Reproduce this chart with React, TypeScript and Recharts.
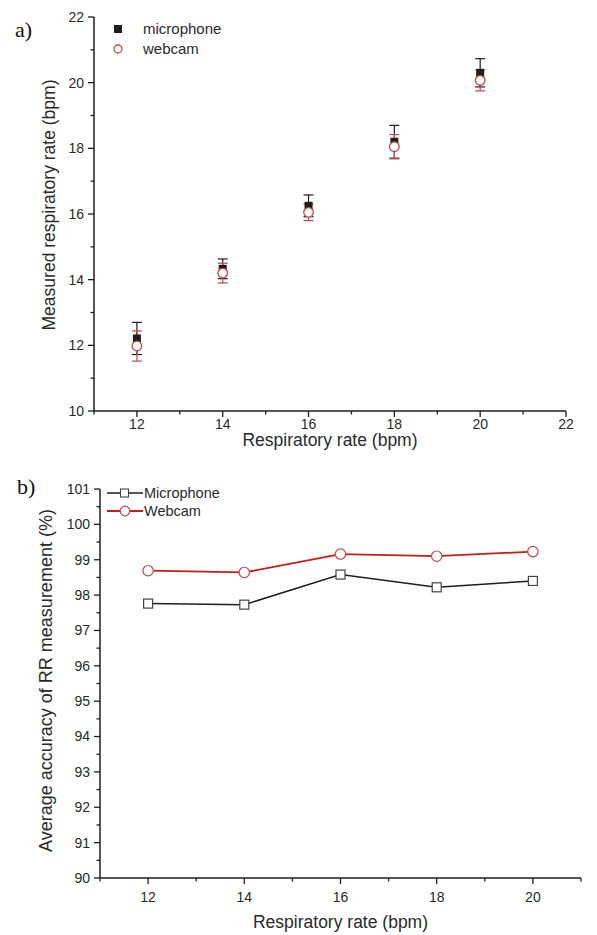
import React from 'react'
import { ScatterChart, Scatter, LineChart, Line, XAxis, YAxis, ErrorBar, Legend } from 'recharts'

const FONT = '"Liberation Sans", Arial, Helvetica, sans-serif'
const INK = '#1e1e1e'
const TEXT = '#2a2a2a'
const RED_MARK = '#c4474a'
const RED_LINE = '#d01818'

// respiratory rate set on the simulator (bpm)
const rates = [12, 14, 16, 18, 20]

// a) measured rate, mean and error
const micMeasured = [12.21, 14.33, 16.25, 18.2, 20.3]
const micError = [0.49, 0.3, 0.33, 0.5, 0.43]
const camMeasured = [11.98, 14.2, 16.05, 18.05, 20.07]
const camError = [0.46, 0.3, 0.25, 0.37, 0.32]

// b) average accuracy (%)
const micAccuracy = [97.76, 97.73, 98.58, 98.22, 98.4]
const camAccuracy = [98.69, 98.64, 99.16, 99.1, 99.23]

const topXTicks = [11, 12, 13, 14, 15, 16, 17, 18, 19, 20, 21, 22]
const topYTicks = [10, 11, 12, 13, 14, 15, 16, 17, 18, 19, 20, 21, 22]
const botXTicks = [11, 12, 13, 14, 15, 16, 17, 18, 19, 20, 21]
const botXLabels = [12, 14, 16, 18, 20]
const botYTicks = [90, 90.5, 91, 91.5, 92, 92.5, 93, 93.5, 94, 94.5, 95, 95.5, 96, 96.5, 97, 97.5, 98, 98.5, 99, 99.5, 100, 100.5, 101]

const micPoints = rates.map((r, i) => ({ x: r, y: micMeasured[i], err: micError[i] }))
const camPoints = rates.map((r, i) => ({ x: r, y: camMeasured[i], err: camError[i] }))
const accuracy = rates.map((r, i) => ({ x: r, mic: micAccuracy[i], cam: camAccuracy[i] }))

const makeXTick = (isMajor: (v: number) => boolean, showLabel: (v: number) => boolean, labelDy: number) =>
  (p: any) => {
    const v = p.payload.value
    const major = isMajor(v)
    return (
      <g key={`xt-${v}`}>
        <line x1={p.x} x2={p.x} y1={p.y} y2={p.y + (major ? 6 : 3.5)} stroke={INK} strokeWidth={1.3} />
        {showLabel(v) && (
          <text x={p.x} y={p.y + labelDy} dy="0.35em" textAnchor="middle" fontSize={14} fill={TEXT} fontFamily={FONT}>
            {v}
          </text>
        )}
      </g>
    )
  }

const makeYTick = (isMajor: (v: number) => boolean) => (p: any) => {
  const v = p.payload.value
  const major = isMajor(v)
  return (
    <g key={`yt-${v}`}>
      <line x1={p.x} x2={p.x - (major ? 6 : 3.5)} y1={p.y} y2={p.y} stroke={INK} strokeWidth={1.3} />
      {major && (
        <text x={p.x - 10} y={p.y} dy="0.35em" textAnchor="end" fontSize={14} fill={TEXT} fontFamily={FONT}>
          {v}
        </text>
      )}
    </g>
  )
}

// rotated axis title; shift moves it along the axis
const yTitle = (text: string, dx: number, shift: number, size: number) => (p: any) => {
  const vb = p.viewBox
  const cx = vb.x + dx
  const cy = vb.y + vb.height / 2 + shift
  return (
    <text x={cx} y={cy} transform={`rotate(-90 ${cx} ${cy})`} textAnchor="middle" dy="0.35em"
      fontSize={size} fill={TEXT} fontFamily={FONT}>
      {text}
    </text>
  )
}

const xTitle = (text: string, dy: number) => (p: any) => {
  const vb = p.viewBox
  return (
    <text x={vb.x + vb.width / 2} y={vb.y + dy} textAnchor="middle" dy="0.35em"
      fontSize={17.5} fill={TEXT} fontFamily={FONT}>
      {text}
    </text>
  )
}

const SquareMark = (p: any) => <rect x={p.cx - 4} y={p.cy - 4} width={8} height={8} fill={INK} />
const CircleMark = (p: any) => (
  <circle cx={p.cx} cy={p.cy} r={4.8} fill="#fff" stroke={RED_MARK} strokeWidth={1.3} />
)

const TopLegend = () => (
  <svg width={130} height={44} style={{ display: 'block' }}>
    <rect x={4} y={7} width={8} height={8} fill={INK} />
    <text x={33} y={11} dy="0.35em" fontSize={15} fill={TEXT} fontFamily={FONT}>microphone</text>
    <circle cx={8} cy={31} r={4} fill="#fff" stroke={RED_MARK} strokeWidth={1.3} />
    <text x={33} y={31} dy="0.35em" fontSize={15} fill={TEXT} fontFamily={FONT}>webcam</text>
  </svg>
)

const BottomLegend = () => (
  <svg width={130} height={40} style={{ display: 'block' }}>
    <line x1={2} x2={38} y1={9} y2={9} stroke={INK} strokeWidth={1.5} />
    <rect x={15.5} y={5} width={8} height={8} fill="#fff" stroke="#444" strokeWidth={1.1} />
    <text x={39} y={9} dy="0.35em" fontSize={14.5} fill={TEXT} fontFamily={FONT}>Microphone</text>
    <line x1={2} x2={38} y1={27} y2={27} stroke={RED_LINE} strokeWidth={1.8} />
    <circle cx={20} cy={27} r={4.8} fill="#fff" stroke={RED_MARK} strokeWidth={1.2} />
    <text x={39} y={27} dy="0.35em" fontSize={14.5} fill={TEXT} fontFamily={FONT}>Webcam</text>
  </svg>
)

const panelTag: React.CSSProperties = {
  position: 'absolute',
  fontFamily: '"Liberation Serif", "Times New Roman", serif',
  fontSize: 22,
  color: '#111',
  lineHeight: 1,
}

export default function App() {
  return (
    <div style={{ position: 'absolute', left: 0, top: 0, width: 597, height: 935, background: '#fff' }}>
      <div style={{ ...panelTag, left: 15, top: 19 }}>a)</div>
      <div style={{ ...panelTag, left: 17, top: 476 }}>b)</div>

      <div style={{ position: 'absolute', left: 0, top: 0 }}>
        <ScatterChart width={597} height={465} margin={{ top: 17, right: 31, bottom: 24, left: 0 }}>
          <XAxis type="number" dataKey="x" domain={[11, 22]} ticks={topXTicks} interval={0} height={30}
            axisLine={{ stroke: INK, strokeWidth: 1.5 }} tickLine={false} tickSize={0} tickMargin={0}
            tick={makeXTick((v) => v % 2 === 0, (v) => v % 2 === 0, 13)}
            label={xTitle('Respiratory rate (bpm)', 29)} />
          <YAxis type="number" dataKey="y" domain={[10, 22]} ticks={topYTicks} interval={0} width={94}
            axisLine={{ stroke: INK, strokeWidth: 1.5 }} tickLine={false} tickSize={0} tickMargin={0}
            tick={makeYTick((v) => v % 2 === 0)}
            label={yTitle('Measured respiratory rate (bpm)', 49, -9, 17.5)} />
          <Legend layout="horizontal" verticalAlign="middle" align="center"
            wrapperStyle={{ left: 110, top: 18, width: 'auto' }} content={() => <TopLegend />} />
          <Scatter name="microphone" data={micPoints} shape={SquareMark} isAnimationActive={false}>
            <ErrorBar dataKey="err" direction="y" width={5} stroke={INK} strokeWidth={1.2} isAnimationActive={false} />
          </Scatter>
          <Scatter name="webcam" data={camPoints} shape={CircleMark} isAnimationActive={false}>
            <ErrorBar dataKey="err" direction="y" width={5} stroke={RED_MARK} strokeWidth={1.2} isAnimationActive={false} />
          </Scatter>
        </ScatterChart>
      </div>

      <div style={{ position: 'absolute', left: 0, top: 465 }}>
        <LineChart width={597} height={470} data={accuracy} margin={{ top: 24, right: 16, bottom: 27, left: 0 }}>
          <XAxis type="number" dataKey="x" domain={[11, 21]} ticks={botXTicks} interval={0} height={30}
            axisLine={{ stroke: INK, strokeWidth: 1.5 }} tickLine={false} tickSize={0} tickMargin={0}
            tick={makeXTick((v) => v % 2 === 0, (v) => botXLabels.includes(v), 19)}
            label={xTitle('Respiratory rate (bpm)', 44)} />
          <YAxis type="number" domain={[90, 101]} ticks={botYTicks} interval={0} width={100}
            axisLine={{ stroke: INK, strokeWidth: 1.5 }} tickLine={false} tickSize={0} tickMargin={0}
            tick={makeYTick((v) => Number.isInteger(v))}
            label={yTitle('Average accuracy of RR measurement (%)', 46, -3, 18)} />
          <Legend layout="horizontal" verticalAlign="middle" align="center"
            wrapperStyle={{ left: 105, top: 19, width: 'auto' }} content={() => <BottomLegend />} />
          <Line dataKey="mic" type="linear" stroke={INK} strokeWidth={1.5} isAnimationActive={false}
            dot={(p: any) => (
              <rect key={`m-${p.index}`} x={p.cx - 4.5} y={p.cy - 4.5} width={9} height={9}
                fill="#fff" stroke="#444" strokeWidth={1.2} />
            )} />
          <Line dataKey="cam" type="linear" stroke={RED_LINE} strokeWidth={1.8} isAnimationActive={false}
            dot={(p: any) => (
              <circle key={`c-${p.index}`} cx={p.cx} cy={p.cy} r={5.2}
                fill="#fff" stroke={RED_MARK} strokeWidth={1.2} />
            )} />
        </LineChart>
      </div>
    </div>
  )
}
